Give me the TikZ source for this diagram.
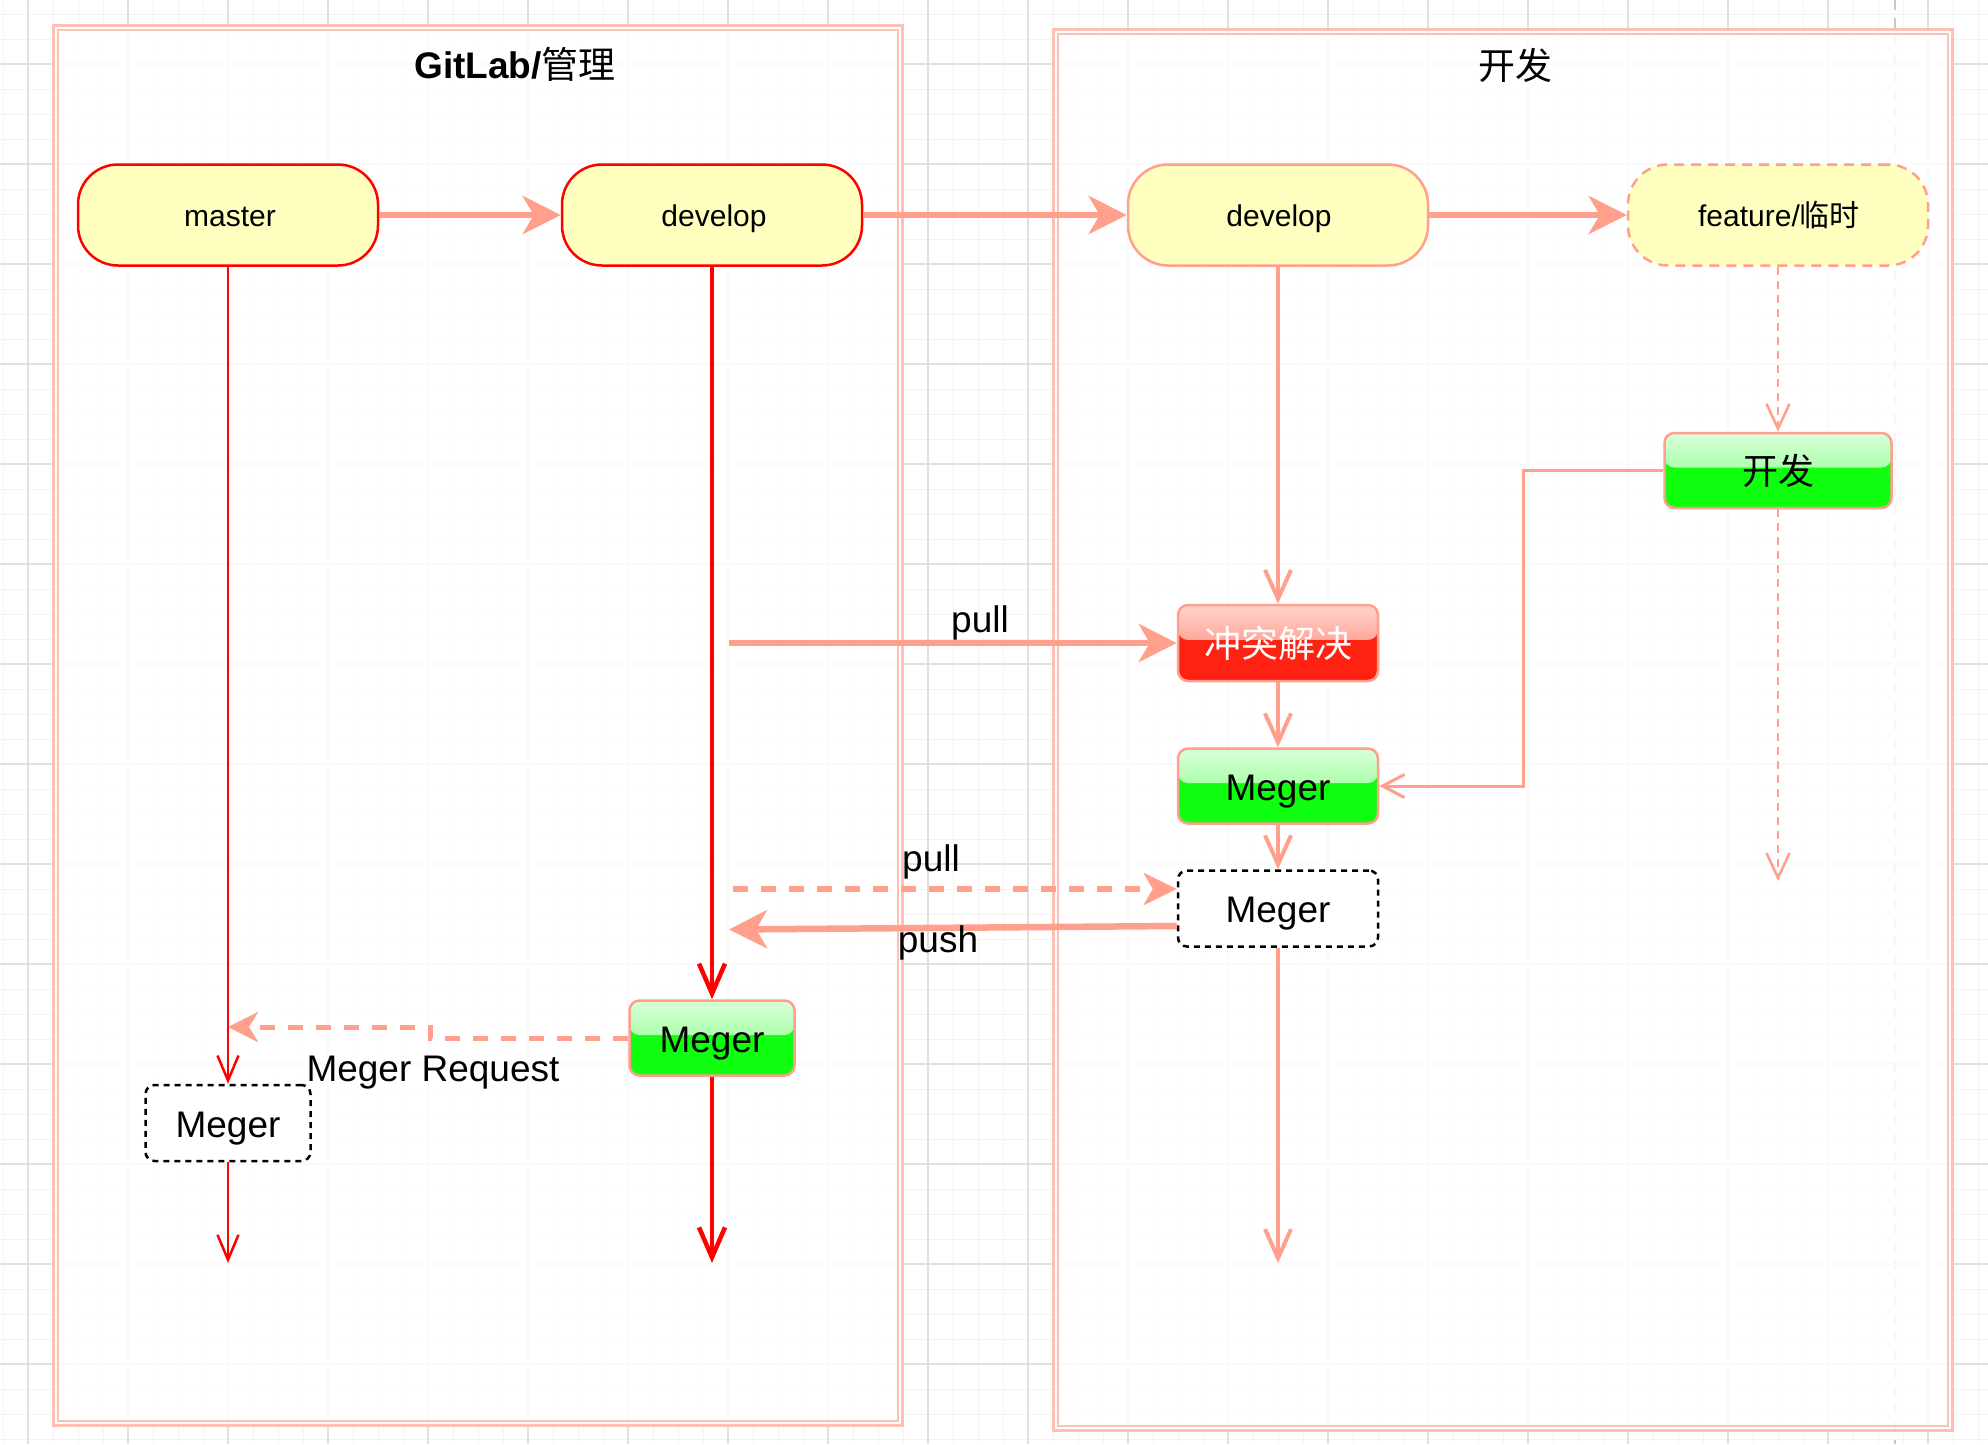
\documentclass[tikz,border=0pt]{standalone}
\usepackage{fontspec}
\setmainfont{Liberation Sans}
\newfontfamily\cjkfont{Noto Sans CJK SC}
\usetikzlibrary{arrows.meta,calc}
\definecolor{salmon}{HTML}{FF9F8C}
\definecolor{contline}{HTML}{FFC0B3}
\definecolor{capfill}{HTML}{FFFFC0}
\definecolor{gridminor}{HTML}{F3F3F3}
\definecolor{gridmajor}{HTML}{E0E0E0}
\definecolor{pagebreak}{HTML}{C8C8C8}
\definecolor{gtop}{HTML}{D8FFD8}
\definecolor{gmid}{HTML}{7CFF7C}
\definecolor{gbot}{HTML}{10FF10}
\definecolor{rtop}{HTML}{FFD4CC}
\definecolor{rmid}{HTML}{FF7262}
\definecolor{rbot}{HTML}{FF2212}
\pgfdeclareverticalshading{glossgreen}{100bp}{color(0bp)=(gmid); color(25bp)=(gmid); color(75bp)=(gtop); color(100bp)=(gtop)}
\pgfdeclareverticalshading{glossred}{100bp}{color(0bp)=(rmid); color(25bp)=(rmid); color(75bp)=(rtop); color(100bp)=(rtop)}
\tikzset{
  x=1pt,y=1pt,
  lbl30/.style={font=\fontsize{30pt}{36pt}\selectfont, text height=30pt, text depth=6.6pt},
  lbl37/.style={font=\fontsize{37pt}{44pt}\selectfont, text height=37pt, text depth=8.1pt},
  capsule/.style={lbl30, rounded corners=40pt, minimum width=300pt, minimum height=101pt,
    fill=capfill, line width=2.5pt, inner sep=0pt, text depth=6.6pt},
  greenbox/.style={lbl37, draw=salmon, line width=2.5pt, rounded corners=10pt, fill=gbot, inner sep=0pt,
    path picture={\shade[shading=glossgreen]
      (path picture bounding box.north west) rectangle
      ($(path picture bounding box.north east)!0.46!(path picture bounding box.south east)$);}},
  redbox/.style={lbl37, draw=salmon, line width=2.5pt, rounded corners=10pt, fill=rbot, inner sep=0pt, text=white,
    path picture={\shade[shading=glossred]
      (path picture bounding box.north west) rectangle
      ($(path picture bounding box.north east)!0.46!(path picture bounding box.south east)$);}},
  dbox/.style={lbl37, draw=black, dash pattern=on 6pt off 5pt, line width=2.5pt, rounded corners=9pt,
    fill=white, inner sep=0pt},
  edgelbl/.style={font=\fontsize{37pt}{44pt}\selectfont, anchor=base, inner sep=0pt},
  thickconn/.style={draw=salmon, line width=6.5pt, -{Stealth[length=38pt,width=38pt,inset=11pt]}},
  thickdash/.style={draw=salmon, line width=5.5pt, dash pattern=on 15pt off 13pt,
    -{Stealth[length=33pt,width=32pt,inset=9pt]}},
  mrconn/.style={draw=salmon, line width=5pt, dash pattern=on 15pt off 13pt,
    -{Stealth[length=30pt,width=30pt,inset=9pt]}},
  redthin/.style={draw=red, line width=2.5pt, -{Straight Barb[length=25pt,width=21pt]}},
  redthick/.style={draw=red, line width=4.5pt, -{Straight Barb[length=30pt,width=26pt]}},
  salmonv/.style={draw=salmon, line width=4pt, -{Straight Barb[length=29pt,width=26pt]}},
  salmonthin/.style={draw=salmon, line width=3pt, -{Straight Barb[length=22pt,width=23pt]}},
  featdash/.style={draw=salmon, line width=2.5pt, dash pattern=on 8pt off 6pt,
    -{Straight Barb[length=25pt,width=23pt]}},
  container/.style={draw=contline, line width=2.2pt}
}
\begin{document}
\begin{tikzpicture}
\useasboundingbox (0,0) rectangle (1988,-1444);
\fill[white] (0,0) rectangle (1988,-1444);
% canvas grid
\foreach \x in {3,28,...,1988} \draw[gridminor,line width=1pt] (\x,0) -- (\x,-1444);
\foreach \y in {14,39,...,1444} \draw[gridminor,line width=1pt] (0,-\y) -- (1988,-\y);
\foreach \x in {28,128,...,1988} \draw[gridmajor,line width=1.3pt] (\x,0) -- (\x,-1444);
\foreach \y in {64,164,...,1444} \draw[gridmajor,line width=1.3pt] (0,-\y) -- (1988,-\y);
\draw[pagebreak,line width=1.5pt,dash pattern=on 10pt off 8pt] (1895,0) -- (1895,-1444);

% containers
\fill[white,fill opacity=0.85] (53.5,-25.5) rectangle (902.5,-1425.5);
\draw[container] (53.5,-25.5) rectangle (902.5,-1425.5);
\draw[container,line width=1.8pt] (58,-30) rectangle (898,-1421);
\fill[white,fill opacity=0.85] (1053.5,-29.5) rectangle (1952.5,-1430.5);
\draw[container] (1053.5,-29.5) rectangle (1952.5,-1430.5);
\draw[container,line width=1.8pt] (1058,-34) rectangle (1948,-1426);

% titles
\node[font=\fontsize{37pt}{44pt}\selectfont, anchor=base, inner sep=0pt] (t1) at (515,-78) {{\bfseries GitLab/}{\cjkfont 管理}};
\node[font=\fontsize{37pt}{44pt}\selectfont\cjkfont, anchor=base, inner sep=0pt] (t2) at (1515,-79) {开发};

% branch capsules
\node[capsule, draw=red] (master) at (228,-215) {\hspace{4pt}master};
\node[capsule, draw=red] (devL) at (712,-215) {\hspace{4pt}develop};
\node[capsule, draw=salmon] (devR) at (1278,-215) {\hspace{2pt}develop};
\node[capsule, draw=salmon, dash pattern=on 10pt off 7pt] (feat) at (1778,-215) {\hspace{2pt}feature/{\cjkfont 临时}};

% process boxes
\node[greenbox, minimum width=227pt, minimum height=75pt, font=\fontsize{36pt}{43pt}\selectfont\cjkfont] (kf) at (1778,-470.5) {开发};
\node[redbox, minimum width=200pt, minimum height=76pt, font=\fontsize{37pt}{44pt}\selectfont\cjkfont] (conf) at (1278,-643) {冲突解决};
\node[greenbox, minimum width=200pt, minimum height=75pt] (mgR) at (1278,-786) {Meger};
\node[dbox, minimum width=200pt, minimum height=76pt] (mgR2) at (1278,-908.5) {Meger};
\node[greenbox, minimum width=165pt, minimum height=75pt] (mgL) at (712,-1038) {Meger};
\node[dbox, minimum width=165pt, minimum height=76pt] (mgL2) at (228,-1123) {Meger};

% free ends
\coordinate (endA) at (228,-1263);
\coordinate (endB) at (712,-1263);
\coordinate (endC) at (1278,-1263);
\coordinate (endD) at (1778,-881);
\coordinate (pullStart) at (729,-643);
\coordinate (pull2Start) at (733,-889);
\coordinate (pushEnd) at (729,-929.5);
\coordinate (mrEnd) at (228,-1027);

% branch arrows
\draw[thickconn] (master.east) -- (devL.west);
\draw[thickconn] (devL.east) -- (devR.west);
\draw[thickconn] (devR.east) -- (feat.west);

% master line
\draw[redthin] (master.south) -- (mgL2.north);
\draw[redthin] (mgL2.south) -- (endA);
% develop (GitLab) line
\draw[redthick] (devL.south) -- (mgL.north);
\draw[redthick] (mgL.south) -- (endB);
% develop (dev) line
\draw[salmonv] (devR.south) -- (conf.north);
\draw[salmonv] (conf.south) -- (mgR.north);
\draw[salmonv] (mgR.south) -- (mgR2.north);
\draw[salmonv] (mgR2.south) -- (endC);
% feature line
\draw[featdash] (feat.south) -- (kf.north);
\draw[featdash] (kf.south) -- (endD);
\draw[salmonthin] (kf.west) -- ++(-140,0) |- (mgR.east);

% pull / push
\draw[thickconn] (pullStart) -- (conf.west);
\draw[thickdash] (pull2Start) -- ($(mgR2.west)+(0,19.5)$);
\draw[thickconn] ($(mgR2.west)+(0,-17.5)$) -- (pushEnd);
\draw[mrconn] (mgL.west) -- ++(-198,0) |- (mrEnd);

% labels
\node[edgelbl] (l1) at (980,-632) {pull};
\node[edgelbl] (l2) at (931,-871) {pull};
\node[edgelbl] (l3) at (938,-952) {push};
\node[edgelbl] (l4) at (433,-1081) {Meger Request};
\end{tikzpicture}
\end{document}
